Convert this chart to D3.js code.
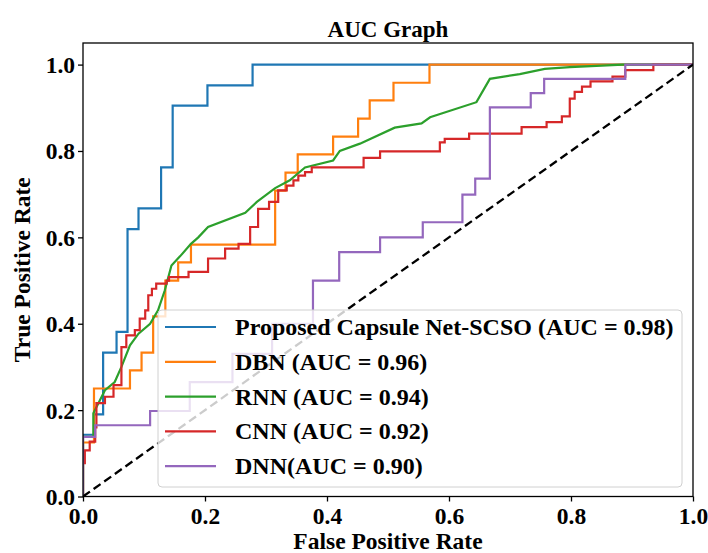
<!DOCTYPE html>
<html>
<head>
<meta charset="utf-8">
<script src="https://cdn.jsdelivr.net/npm/d3@7"></script>
<style>
  html, body { margin: 0; padding: 0; background: #fff; }
  svg { display: block; }
  text { font-family: "Liberation Serif", "Times New Roman", serif; font-weight: bold; fill: #000; }
</style>
</head>
<body>
<svg id="chart" width="708" height="553"></svg>
<script>
// ---- data ----
const titleText = "AUC Graph";
const xLabel = "False Positive Rate";
const yLabel = "True Positive Rate";
const tickValues = [0, 0.2, 0.4, 0.6, 0.8, 1.0];
const seriesNames = [
  "Proposed Capsule Net-SCSO (AUC = 0.98)",
  "DBN (AUC = 0.96)",
  "RNN (AUC = 0.94)",
  "CNN (AUC = 0.92)",
  "DNN(AUC = 0.90)"
];
const seriesColors = ["#1f77b4", "#ff7f0e", "#2ca02c", "#d62728", "#9467bd"];

// Proposed Capsule Net-SCSO (step corners)
const capsFpr = [0, 0, 0.018, 0.033, 0.055, 0.073, 0.091, 0.128, 0.147, 0.204, 0.278, 1];
const capsTpr = [0, 0.143, 0.19, 0.333, 0.381, 0.619, 0.667, 0.762, 0.905, 0.952, 1, 1];

// DBN
const dbnFpr = [0, 0, 0.018, 0.077, 0.096, 0.115, 0.135, 0.156, 0.177, 0.315, 0.332, 0.352, 0.41, 0.451, 0.47, 0.509, 0.568, 1];
const dbnTpr = [0, 0.125, 0.25, 0.292, 0.333, 0.417, 0.5, 0.542, 0.583, 0.708, 0.75, 0.792, 0.833, 0.875, 0.917, 0.958, 1, 1];

// RNN (polyline)
const rnnFpr = [0, 0, 0.017, 0.017, 0.036, 0.052, 0.063, 0.077, 0.091, 0.11, 0.123, 0.134, 0.145, 0.159, 0.177, 0.189, 0.205, 0.266, 0.285, 0.315, 0.339, 0.364, 0.41, 0.421, 0.454, 0.511, 0.555, 0.569, 0.645, 0.667, 0.716, 0.757, 0.798, 0.885, 1];
const rnnTpr = [0, 0.138, 0.138, 0.193, 0.246, 0.265, 0.30, 0.35, 0.377, 0.40, 0.431, 0.477, 0.535, 0.556, 0.585, 0.60, 0.624, 0.657, 0.682, 0.714, 0.732, 0.762, 0.778, 0.80, 0.817, 0.854, 0.864, 0.878, 0.913, 0.967, 0.978, 0.99, 0.994, 1, 1];

// CNN
const cnnFpr = [0, 0, 0.003, 0.011, 0.02, 0.022, 0.036, 0.05, 0.063, 0.071, 0.085, 0.093, 0.102, 0.107, 0.113, 0.12, 0.137, 0.141, 0.173, 0.205, 0.233, 0.255, 0.274, 0.287, 0.305, 0.32, 0.334, 0.345, 0.353, 0.364, 0.375, 0.46, 0.487, 0.585, 0.593, 0.633, 0.719, 0.76, 0.785, 0.798, 0.806, 0.818, 0.832, 0.868, 0.889, 0.935, 1];
const cnnTpr = [0, 0.077, 0.107, 0.127, 0.16, 0.216, 0.231, 0.258, 0.346, 0.373, 0.385, 0.412, 0.431, 0.466, 0.481, 0.493, 0.5, 0.508, 0.52, 0.551, 0.574, 0.585, 0.624, 0.666, 0.682, 0.709, 0.72, 0.732, 0.743, 0.751, 0.762, 0.784, 0.799, 0.82, 0.828, 0.84, 0.855, 0.867, 0.88, 0.921, 0.937, 0.949, 0.961, 0.972, 0.987, 1, 1];

// DNN
const dnnFpr = [0, 0, 0.02, 0.11, 0.175, 0.245, 0.31, 0.377, 0.42, 0.487, 0.557, 0.622, 0.643, 0.667, 0.734, 0.756, 0.889, 1];
const dnnTpr = [0, 0.138, 0.165, 0.198, 0.265, 0.33, 0.4, 0.5, 0.566, 0.6, 0.635, 0.699, 0.736, 0.901, 0.934, 0.967, 1, 1];

const chanceLine = [0, 1];

// ---- layout ----
const svg = d3.select("#chart");
const margin = { left: 83, right: 15, top: 43, bottom: 56.5 };
const W = 708, H = 553;
const x = d3.scaleLinear().domain([0, 1]).range([margin.left, W - margin.right]);
const y = d3.scaleLinear().domain([0, 1.05]).range([H - margin.bottom, margin.top]);

const zip = (a, b) => a.map((v, i) => [v, b[i]]);
const series = [
  { name: seriesNames[0], color: seriesColors[0], pts: zip(capsFpr, capsTpr), curve: d3.curveStepAfter },
  { name: seriesNames[1], color: seriesColors[1], pts: zip(dbnFpr, dbnTpr), curve: d3.curveStepAfter },
  { name: seriesNames[2], color: seriesColors[2], pts: zip(rnnFpr, rnnTpr), curve: d3.curveLinear },
  { name: seriesNames[3], color: seriesColors[3], pts: zip(cnnFpr, cnnTpr), curve: d3.curveStepAfter },
  { name: seriesNames[4], color: seriesColors[4], pts: zip(dnnFpr, dnnTpr), curve: d3.curveStepAfter }
];

svg.append("defs").append("clipPath").attr("id", "clip")
  .append("rect")
  .attr("x", x(0)).attr("y", y(1.05))
  .attr("width", x(1) - x(0)).attr("height", y(0) - y(1.05));

const plot = svg.append("g").attr("clip-path", "url(#clip)");

series.forEach(s => {
  const line = d3.line().x(d => x(d[0])).y(d => y(d[1])).curve(s.curve);
  plot.append("path")
    .datum(s.pts)
    .attr("d", line)
    .attr("fill", "none")
    .attr("stroke", s.color)
    .attr("stroke-width", 2.2)
    .attr("stroke-linejoin", "miter");
});

plot.append("path")
  .datum(zip(chanceLine, chanceLine))
  .attr("d", d3.line().x(d => x(d[0])).y(d => y(d[1])))
  .attr("fill", "none")
  .attr("stroke", "#000")
  .attr("stroke-width", 2.3)
  .attr("stroke-dasharray", "8.5,4.5");

// axes
const fmt = d3.format(".1f");
const xAxis = svg.append("g")
  .attr("transform", `translate(0,${y(0)})`)
  .call(d3.axisBottom(x).tickValues(tickValues).tickFormat(fmt).tickSizeOuter(0).tickSize(5).tickPadding(3));
const yAxis = svg.append("g")
  .attr("transform", `translate(${x(0)},0)`)
  .call(d3.axisLeft(y).tickValues(tickValues).tickFormat(fmt).tickSizeOuter(0).tickSize(5).tickPadding(3));

[xAxis, yAxis].forEach(g => {
  g.select(".domain").remove();
  g.selectAll(".tick line").attr("stroke", "#000").attr("stroke-width", 1.3);
  g.selectAll(".tick text")
    .style("font-family", '"Liberation Serif", "Times New Roman", serif')
    .style("font-weight", "bold")
    .style("font-size", "23.5px")
    .attr("fill", "#000");
});
xAxis.selectAll(".tick text").attr("dy", "0.82em");
yAxis.selectAll(".tick text").attr("dy", "0.34em");

// frame
svg.append("rect")
  .attr("x", x(0)).attr("y", y(1.05))
  .attr("width", x(1) - x(0)).attr("height", y(0) - y(1.05))
  .attr("fill", "none").attr("stroke", "#000").attr("stroke-width", 1.3);

// title and labels
svg.append("text")
  .attr("x", (x(0) + x(1)) / 2).attr("y", 37)
  .attr("text-anchor", "middle")
  .style("font-size", "23px")
  .text(titleText);

svg.append("text")
  .attr("x", (x(0) + x(1)) / 2).attr("y", 549)
  .attr("text-anchor", "middle")
  .style("font-size", "23.5px")
  .text(xLabel);

svg.append("text")
  .attr("transform", `translate(30,${(y(0) + y(1.05)) / 2}) rotate(-90)`)
  .attr("text-anchor", "middle")
  .style("font-size", "23.5px")
  .text(yLabel);

// legend
const lg = svg.append("g");
lg.append("rect")
  .attr("x", 158).attr("y", 310)
  .attr("width", 524).attr("height", 177)
  .attr("rx", 4).attr("ry", 4)
  .attr("fill", "#fff").attr("fill-opacity", 0.8)
  .attr("stroke", "#d0d0d0").attr("stroke-width", 1);

series.forEach((s, i) => {
  const cy = 327 + i * 34.8;
  lg.append("line")
    .attr("x1", 165).attr("x2", 216)
    .attr("y1", cy).attr("y2", cy)
    .attr("stroke", s.color).attr("stroke-width", 2.2);
  lg.append("text")
    .attr("x", 235).attr("y", cy)
    .attr("dy", "0.33em")
    .style("font-size", "24px")
    .text(s.name);
});
</script>
</body>
</html>
